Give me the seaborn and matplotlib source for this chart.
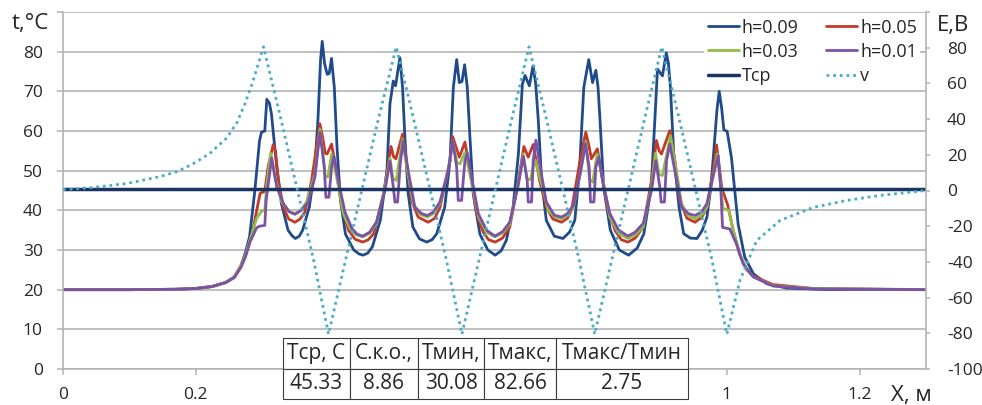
"""Temperature profiles t(X) for several h, with field E on a second axis"""
import matplotlib
matplotlib.use("Agg")
import matplotlib.pyplot as plt
import pandas as pd
import seaborn as sns
from matplotlib.lines import Line2D

# ---- data (X, t) ----
h009 = [(0.0, 20.0), (0.10, 20.0), (0.17, 20.1), (0.20, 20.3), (0.225, 20.8), (0.245, 21.8),
        (0.258, 23.2), (0.268, 26.0), (0.275, 29.5), (0.281, 33.3), (0.289, 45.0), (0.296, 57.5),
        (0.299, 59.7), (0.304, 60.0), (0.307, 68.0), (0.311, 67.0), (0.314, 64.3), (0.321, 52.5),
        (0.329, 41.7), (0.339, 35.0), (0.345, 33.6), (0.350, 32.9), (0.356, 33.5), (0.361, 35.0),
        (0.371, 40.8), (0.379, 50.0), (0.384, 62.6), (0.388, 78.0), (0.3905, 82.6), (0.394, 77.0),
        (0.398, 74.3), (0.401, 74.5), (0.4045, 78.3), (0.4087, 71.0), (0.4127, 56.0), (0.418, 42.5),
        (0.4255, 34.0), (0.438, 30.0), (0.446, 29.0), (0.452, 28.7), (0.459, 29.2), (0.466, 30.8),
        (0.478, 37.5), (0.488, 50.0), (0.4925, 66.8), (0.4975, 72.6), (0.501, 71.4), (0.5075, 78.5),
        (0.5115, 71.0), (0.515, 58.4), (0.520, 44.2), (0.527, 35.8), (0.537, 32.8), (0.548, 32.0),
        (0.556, 32.6), (0.563, 34.1), (0.575, 40.8), (0.583, 52.5), (0.588, 71.0), (0.593, 78.0),
        (0.597, 72.2), (0.601, 72.5), (0.605, 76.7), (0.609, 71.0), (0.613, 58.4), (0.618, 44.2),
        (0.628, 34.0), (0.640, 30.0), (0.651, 28.7), (0.660, 29.8), (0.668, 32.5), (0.678, 40.8),
        (0.686, 54.2), (0.692, 71.8), (0.696, 74.0), (0.7025, 71.4), (0.708, 76.4), (0.712, 72.0),
        (0.716, 62.6), (0.721, 47.5), (0.728, 37.5), (0.740, 33.5), (0.753, 32.9), (0.763, 34.5),
        (0.771, 37.5), (0.778, 50.0), (0.7845, 71.0), (0.792, 78.0), (0.7977, 72.2), (0.8027, 75.3),
        (0.806, 71.0), (0.809, 62.6), (0.8145, 45.8), (0.8245, 35.0), (0.838, 30.0), (0.852, 28.7),
        (0.865, 30.5), (0.875, 34.1), (0.886, 45.8), (0.8915, 62.6), (0.8955, 75.6), (0.903, 73.9),
        (0.9088, 79.7), (0.912, 77.0), (0.915, 71.0), (0.920, 54.2), (0.928, 40.8), (0.935, 34.1),
        (0.945, 33.0), (0.955, 32.9), (0.963, 35.0), (0.970, 38.3), (0.976, 46.0), (0.980, 54.2),
        (0.985, 65.1), (0.9885, 70.0), (0.992, 66.0), (0.9955, 60.3), (1.0005, 59.9), (1.007, 53.2),
        (1.012, 44.9), (1.017, 36.5), (1.027, 28.2), (1.04, 24.0), (1.06, 21.5), (1.09, 20.4),
        (1.15, 20.05), (1.30, 20.0)]

h005 = [(0.0, 20.0), (0.10, 20.0), (0.17, 20.1), (0.20, 20.3), (0.225, 20.8), (0.245, 21.8),
        (0.258, 23.2), (0.268, 26.0), (0.275, 28.8), (0.281, 32.0), (0.287, 35.8), (0.293, 41.0),
        (0.297, 44.3), (0.304, 44.8), (0.309, 51.0), (0.3167, 56.6), (0.320, 55.0), (0.3243, 47.5),
        (0.332, 40.8), (0.340, 37.8), (0.3495, 37.0), (0.357, 37.8), (0.3645, 39.6), (0.3745, 47.5),
        (0.381, 55.0), (0.387, 61.8), (0.391, 58.5), (0.395, 54.4), (0.398, 54.2), (0.4046, 56.7),
        (0.411, 50.9), (0.420, 40.8), (0.430, 35.0), (0.440, 32.7), (0.4515, 32.0), (0.460, 32.6),
        (0.468, 34.1), (0.483, 44.2), (0.4942, 56.1), (0.498, 53.5), (0.5014, 53.0), (0.5115, 59.2),
        (0.517, 52.5), (0.525, 42.5), (0.535, 38.3), (0.550, 37.0), (0.560, 38.0), (0.568, 40.8),
        (0.583, 52.5), (0.587, 58.6), (0.592, 56.0), (0.597, 53.4), (0.6055, 57.2), (0.613, 50.0),
        (0.623, 39.2), (0.633, 34.5), (0.641, 32.6), (0.651, 32.0), (0.662, 33.0), (0.673, 35.8),
        (0.686, 47.5), (0.6943, 56.1), (0.7008, 53.4), (0.7083, 56.6), (0.718, 47.5), (0.728, 40.8),
        (0.738, 37.8), (0.751, 37.0), (0.760, 38.0), (0.766, 40.0), (0.778, 51.7), (0.7875, 59.7),
        (0.792, 56.5), (0.796, 53.0), (0.805, 55.5), (0.811, 49.2), (0.821, 40.0), (0.832, 34.8),
        (0.841, 32.6), (0.851, 32.0), (0.862, 33.0), (0.874, 35.8), (0.8865, 47.5), (0.894, 57.6),
        (0.898, 55.0), (0.9015, 54.2), (0.914, 60.1), (0.9217, 52.5), (0.929, 42.5), (0.940, 38.0),
        (0.952, 37.0), (0.962, 38.2), (0.970, 40.8), (0.980, 50.9), (0.9845, 56.5), (0.9925, 45.5),
        (1.001, 41.5), (1.0095, 35.0), (1.0195, 28.8), (1.030, 25.0), (1.039, 23.5), (1.069, 21.3),
        (1.13, 20.3), (1.30, 20.0)]

h003 = [(0.0, 20.0), (0.10, 20.0), (0.17, 20.1), (0.20, 20.3), (0.225, 20.8), (0.245, 21.8),
        (0.258, 23.2), (0.268, 26.0), (0.275, 28.8), (0.2816, 32.5), (0.2917, 38.0), (0.299, 39.8),
        (0.304, 40.0), (0.3067, 45.9), (0.3127, 54.4), (0.3193, 48.4), (0.3293, 42.1), (0.340, 39.8),
        (0.3494, 39.2), (0.358, 40.0), (0.367, 42.1), (0.3795, 49.2), (0.387, 60.5), (0.391, 55.0),
        (0.395, 48.6), (0.399, 48.4), (0.4046, 54.2), (0.4122, 48.4), (0.4222, 39.2), (0.432, 35.5),
        (0.441, 33.9), (0.4514, 33.3), (0.462, 34.2), (0.4724, 36.7), (0.4849, 45.9), (0.4925, 53.2),
        (0.497, 48.0), (0.502, 47.5), (0.5115, 58.0), (0.517, 51.7), (0.5276, 41.7), (0.538, 39.0),
        (0.549, 38.3), (0.558, 39.2), (0.5678, 41.7), (0.583, 52.5), (0.587, 57.6), (0.5935, 52.0),
        (0.598, 51.7), (0.6055, 54.6), (0.614, 48.4), (0.626, 38.3), (0.638, 34.5), (0.6506, 33.3),
        (0.662, 34.3), (0.673, 36.5), (0.686, 47.0), (0.6933, 54.2), (0.699, 48.0), (0.704, 47.7),
        (0.711, 52.7), (0.721, 46.7), (0.731, 40.0), (0.741, 38.3), (0.751, 37.9), (0.760, 38.8),
        (0.769, 40.8), (0.781, 50.9), (0.7875, 57.2), (0.793, 48.0), (0.798, 47.1), (0.8046, 54.2),
        (0.8137, 47.5), (0.8237, 38.3), (0.837, 34.2), (0.851, 32.9), (0.862, 33.8), (0.874, 35.8),
        (0.8865, 45.9), (0.8925, 54.4), (0.898, 49.0), (0.903, 48.8), (0.915, 58.8), (0.9232, 50.9),
        (0.9318, 41.7), (0.942, 38.6), (0.952, 37.9), (0.962, 38.8), (0.970, 40.8), (0.980, 49.2),
        (0.9855, 54.2), (0.991, 46.0), (0.994, 40.5), (1.003, 40.0), (1.0095, 35.0), (1.0195, 29.0),
        (1.030, 25.0), (1.040, 23.2), (1.070, 21.0), (1.13, 20.3), (1.30, 20.0)]

h001 = [(0.0, 20.0), (0.10, 20.0), (0.17, 20.1), (0.20, 20.3), (0.225, 20.8), (0.245, 21.8),
        (0.258, 23.0), (0.268, 25.6), (0.275, 28.3), (0.2816, 32.0), (0.2917, 35.6), (0.296, 36.0),
        (0.304, 36.2), (0.306, 42.5), (0.3143, 53.2), (0.322, 45.9), (0.332, 41.7), (0.341, 39.6),
        (0.3494, 39.0), (0.359, 40.0), (0.3695, 42.1), (0.3795, 48.4), (0.387, 59.7), (0.3936, 50.9),
        (0.396, 43.3), (0.4006, 43.3), (0.4046, 50.9), (0.408, 53.6), (0.4146, 47.5), (0.4247, 39.6),
        (0.435, 35.5), (0.443, 34.0), (0.4514, 33.5), (0.462, 34.5), (0.4724, 37.1), (0.4849, 45.0),
        (0.4925, 52.4), (0.4975, 45.9), (0.500, 42.1), (0.504, 42.1), (0.508, 51.7), (0.5126, 57.6),
        (0.520, 50.0), (0.530, 40.8), (0.540, 39.2), (0.549, 38.7), (0.558, 39.6), (0.5678, 42.1),
        (0.5803, 50.0), (0.587, 57.6), (0.593, 50.9), (0.5954, 42.5), (0.6004, 42.5), (0.6054, 52.5),
        (0.609, 54.4), (0.6155, 48.4), (0.6255, 39.2), (0.638, 35.0), (0.6506, 33.5), (0.662, 34.6),
        (0.673, 37.0), (0.686, 46.5), (0.6933, 53.6), (0.6993, 47.5), (0.7008, 42.1), (0.7058, 42.1),
        (0.7083, 52.5), (0.7124, 57.7), (0.718, 51.7), (0.728, 42.1), (0.740, 38.8), (0.751, 38.3),
        (0.760, 39.2), (0.769, 41.3), (0.779, 49.2), (0.787, 56.8), (0.7926, 50.9), (0.7946, 42.1),
        (0.7997, 42.1), (0.8027, 50.9), (0.8072, 53.4), (0.8137, 46.7), (0.8237, 39.2), (0.837, 35.0),
        (0.851, 33.5), (0.862, 34.5), (0.874, 36.7), (0.8865, 45.0), (0.893, 52.5), (0.899, 45.9),
        (0.901, 42.1), (0.906, 42.1), (0.9092, 52.5), (0.914, 56.7), (0.9217, 50.0), (0.9318, 40.8),
        (0.942, 39.2), (0.952, 38.7), (0.962, 39.6), (0.970, 41.7), (0.980, 49.2), (0.987, 53.8),
        (0.991, 45.0), (0.9935, 35.7), (1.0045, 35.3), (1.0145, 31.5), (1.0245, 26.5), (1.040, 23.2),
        (1.070, 20.9), (1.13, 20.2), (1.30, 20.0)]

tcp_x = [0.0, 1.3]
tcp_t = [45.33, 45.33]

# field E (right axis)
v_pts = [(0.0, 0.5), (0.045, 1.7), (0.096, 3.9), (0.146, 7.8), (0.172, 10.6), (0.196, 15.0),
         (0.221, 20.7), (0.247, 29.6), (0.262, 38.0), (0.274, 48.5), (0.286, 61.0), (0.302, 80.5),
         (0.327, 42.0), (0.352, 2.0), (0.377, -38.0), (0.400, -80.5), (0.425, -40.0), (0.450, 0.0),
         (0.475, 40.0), (0.502, 80.5), (0.527, 42.0), (0.552, 2.0), (0.577, -38.0), (0.601, -80.5),
         (0.626, -40.0), (0.651, 0.0), (0.676, 40.0), (0.702, 80.5), (0.727, 42.0), (0.752, 2.0),
         (0.777, -38.0), (0.801, -80.5), (0.826, -40.0), (0.851, 0.0), (0.876, 40.0), (0.902, 80.5),
         (0.927, 42.0), (0.952, 2.0), (0.977, -38.0), (1.000, -80.5), (1.020, -50.0), (1.045, -28.0),
         (1.080, -16.8), (1.130, -9.5), (1.180, -5.6), (1.230, -2.8), (1.300, 0.0)]

table_head = ["Тср, С", "С.к.о.,", "Тмин,", "Тмакс,", "Тмакс/Тмин"]
table_vals = ["45.33", "8.86", "30.08", "82.66", "2.75"]

x_ticks = [0, 0.2, 0.4, 0.6, 0.8, 1.0, 1.2]
x_tick_labels = ["0", "0.2", "0.4", "0.6", "0.8", "1", "1.2"]

COLORS = {"h=0.09": "#1F4A8C", "h=0.05": "#C0392B", "h=0.03": "#92BC45", "h=0.01": "#7B52A6"}
TCP_COLOR = "#1B3360"
V_COLOR = "#4BACC6"
GRID = "#B4B4B4"
TEXT = "#262626"
LW = 2.0

sns.set_theme(style="white")
plt.rcParams["font.family"] = ["Open Sans", "DejaVu Sans"]
plt.rcParams["axes.unicode_minus"] = False

series = {"h=0.09": h009, "h=0.05": h005, "h=0.03": h003, "h=0.01": h001}
df = pd.concat(
    [pd.DataFrame(pts, columns=["x", "t"]).assign(series=name) for name, pts in series.items()],
    ignore_index=True,
)
tcp_df = pd.DataFrame({"x": tcp_x, "t": tcp_t})
v_df = pd.DataFrame(v_pts, columns=["x", "v"])

fig = plt.figure(figsize=(9.82, 4.05), dpi=100)
ax = fig.add_axes([63 / 982, 36 / 405, 863 / 982, 357 / 405])

sns.lineplot(data=df, x="x", y="t", hue="series", hue_order=list(series), palette=COLORS,
             sort=False, estimator=None, linewidth=LW, legend=False, ax=ax)
sns.lineplot(data=tcp_df, x="x", y="t", color=TCP_COLOR, linewidth=2.5, ax=ax)

ax2 = ax.twinx()
sns.lineplot(data=v_df, x="x", y="v", color=V_COLOR, linewidth=2.0, sort=False,
             estimator=None, ax=ax2)
ax2.lines[0].set_linestyle((0, (1, 1.4)))

# axes, ticks, grid
ax.set_xlim(0, 1.3)
ax.set_ylim(0, 90)
ax2.set_ylim(-100, 100)
ax.set_xticks(x_ticks)
ax.set_xticklabels(x_tick_labels)
ax.set_yticks(range(0, 91, 10))
ax.set_yticklabels([str(v) if v < 90 else "" for v in range(0, 91, 10)])
ax2.set_yticks(range(-100, 101, 20))
ax2.set_yticklabels([str(v) if v < 100 else "" for v in range(-100, 101, 20)])
for a in (ax, ax2):
    a.set_xlabel("")
    a.set_ylabel("")

ax.grid(axis="y", color=GRID, linewidth=1.2)
ax.grid(axis="x", visible=False)
ax.set_axisbelow(True)

for name, sp in ax.spines.items():
    sp.set_visible(name in ("left", "bottom"))
    sp.set_color(GRID)
    sp.set_linewidth(1.2)
for name, sp in ax2.spines.items():
    sp.set_visible(name == "right")
    sp.set_color(GRID)
    sp.set_linewidth(1.2)

ax.tick_params(axis="y", left=True, direction="out", length=4.5, width=1.1, color=GRID,
               labelsize=12.5, labelcolor=TEXT, pad=10)
ax.tick_params(axis="x", bottom=True, direction="out", length=4, width=1.1, color=GRID,
               labelsize=12.5, labelcolor=TEXT, pad=9)
ax2.tick_params(axis="y", right=True, direction="out", length=3, width=1.1, color=GRID,
                labelsize=12.5, labelcolor=TEXT, pad=12)

# legend, row-major order in two columns
handles = {
    "h=0.09": Line2D([], [], color=COLORS["h=0.09"], lw=LW),
    "h=0.05": Line2D([], [], color=COLORS["h=0.05"], lw=LW),
    "h=0.03": Line2D([], [], color=COLORS["h=0.03"], lw=LW),
    "h=0.01": Line2D([], [], color=COLORS["h=0.01"], lw=LW),
    "Тср": Line2D([], [], color=TCP_COLOR, lw=2.5),
    "v": Line2D([], [], color=V_COLOR, lw=2.0, ls=(0, (1, 1.4))),
}
order = ["h=0.09", "h=0.03", "Тср", "h=0.05", "h=0.01", "v"]
leg = ax2.legend([handles[k] for k in order], order, ncol=2, loc="upper left",
                 bbox_to_anchor=(704 / 982, 1 - 15 / 405), bbox_transform=fig.transFigure,
                 frameon=True, fancybox=False, framealpha=1, facecolor="white",
                 edgecolor="none", fontsize=13, handlelength=1.72, handletextpad=0.15,
                 columnspacing=1.55, labelspacing=0.34, borderpad=0.2, borderaxespad=0)
for txt in leg.get_texts():
    txt.set_color(TEXT)

# axis titles
fig.text(12 / 982, 1 - 24 / 405, "t,°C", fontsize=16, color=TEXT, ha="left", va="center")
fig.text(937 / 982, 1 - 25 / 405, "E,В", fontsize=16, color=TEXT, ha="left", va="center")
fig.text(891 / 982, 1 - 395 / 405, "X, м", fontsize=16, color=TEXT, ha="left", va="center")

# summary table
tax = fig.add_axes([283 / 982, 6 / 405, 405 / 982, 61 / 405])
tax.axis("off")
col_w = [67, 68, 66, 72, 132]
tab = tax.table(cellText=[table_vals], colLabels=table_head,
                colWidths=[w / sum(col_w) for w in col_w], cellLoc="center",
                bbox=[0, 0, 1, 1])
tab.auto_set_font_size(False)
tab.set_fontsize(15)
for cell in tab.get_celld().values():
    cell.set_edgecolor("#3C3C3C")
    cell.set_linewidth(0.8)
    cell.set_facecolor("white")
    cell.get_text().set_color(TEXT)

fig.savefig("out.png", dpi=100)
